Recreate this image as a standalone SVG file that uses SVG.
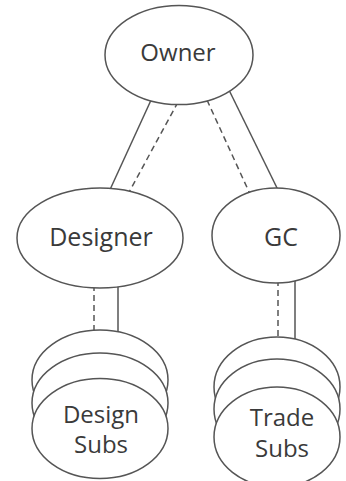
<svg xmlns="http://www.w3.org/2000/svg" width="346" height="481" viewBox="0 0 346 481">
  <style>
    .node { fill: #ffffff; stroke: #555555; stroke-width: 1.5; }
    .link { stroke: #555555; stroke-width: 1.5; fill: none; }
    .dash { stroke-dasharray: 6 4; }
    .label { font-family: "Open Sans", "Liberation Sans", sans-serif; font-size: 24px; fill: #3a3a3a; text-anchor: middle; }
    .big { font-size: 25px; }
    .stack { font-size: 24px; }
  </style>
  <rect width="346" height="481" fill="#ffffff"/>

  <!-- connectors: drawn first so node fills trim their ends -->
  <g id="connectors">
    <line class="link" x1="152" y1="98" x2="108" y2="194"/>
    <line class="link dash" x1="178" y1="102" x2="127" y2="196"/>
    <line class="link dash" x1="207" y1="100" x2="250" y2="194"/>
    <line class="link" x1="228" y1="88" x2="279" y2="192"/>
    <line class="link dash" x1="94" y1="285" x2="94" y2="332"/>
    <line class="link" x1="118" y1="285" x2="118" y2="333"/>
    <line class="link dash" x1="278" y1="280" x2="278" y2="338"/>
    <line class="link" x1="295" y1="280" x2="295" y2="339"/>
  </g>

  <g id="owner">
    <ellipse class="node" cx="179" cy="55" rx="74" ry="49.5"/>
    <text class="label" x="178" y="61">Owner</text>
  </g>

  <g id="designer">
    <ellipse class="node" cx="100" cy="238" rx="83" ry="50"/>
    <text class="label big" x="101" y="246">Designer</text>
  </g>

  <g id="gc">
    <ellipse class="node" cx="276" cy="235.5" rx="64" ry="47.5"/>
    <text class="label big" x="281" y="246">GC</text>
  </g>

  <g id="design-subs">
    <ellipse class="node" cx="100" cy="380" rx="68" ry="50"/>
    <ellipse class="node" cx="100" cy="403" rx="68" ry="50"/>
    <ellipse class="node" cx="100" cy="428.5" rx="68" ry="50"/>
    <text class="label stack" x="101" y="423">Design</text>
    <text class="label stack" x="101" y="453">Subs</text>
  </g>

  <g id="trade-subs">
    <ellipse class="node" cx="277" cy="387" rx="63" ry="50"/>
    <ellipse class="node" cx="277" cy="409" rx="63" ry="50"/>
    <ellipse class="node" cx="277" cy="437" rx="63" ry="50"/>
    <text class="label stack" x="282" y="426">Trade</text>
    <text class="label stack" x="282" y="457">Subs</text>
  </g>
</svg>
